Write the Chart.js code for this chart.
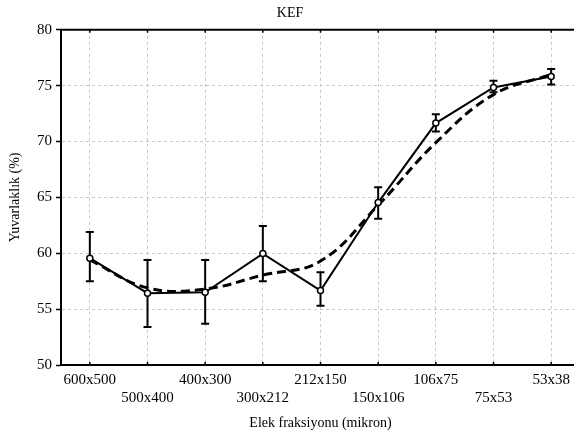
<!DOCTYPE html>
<html>
<head>
<meta charset="utf-8">
<script src="https://cdn.jsdelivr.net/npm/chart.js@4"></script>
<style>
    html, body { margin: 0; padding: 0; background: #fff; overflow: hidden; }
    #wrap { width: 600px; height: 437px; }
</style>
</head>
<body>
<div id="wrap"><canvas id="chart" width="600" height="437"></canvas></div>
<script>
const categories = ['600x500', '500x400', '400x300', '300x212', '212x150', '150x106', '106x75', '75x53', '53x38'];
const measured = [59.56, 56.43, 56.5, 59.97, 56.66, 64.54, 71.65, 74.84, 75.82];
const errLow = [57.5, 53.4, 53.7, 57.5, 55.3, 63.1, 70.9, 74.4, 75.1];
const errHigh = [61.9, 59.4, 59.4, 62.45, 58.3, 65.9, 72.45, 75.43, 76.5];
const fitted = [59.4, 56.9, 56.8, 58.05, 59.3, 64.3, 69.9, 74.2, 76.0];
const yTicks = [50, 55, 60, 65, 70, 75, 80];

const serif = 'Liberation Serif';

// alternating rows for the category labels
const xLabels = categories.map((c, i) => i % 2 === 0 ? [c, ''] : ['', c]);

const errorBars = {
    id: 'errorBars',
    beforeDatasetsDraw(chart) {
        const ctx = chart.ctx;
        const x = chart.scales.x;
        const y = chart.scales.y;
        ctx.save();
        ctx.strokeStyle = '#000';
        ctx.lineWidth = 2;
        errLow.forEach((lo, i) => {
            const px = x.getPixelForValue(i);
            const top = y.getPixelForValue(errHigh[i]);
            const bot = y.getPixelForValue(lo);
            ctx.beginPath();
            ctx.moveTo(px, top);
            ctx.lineTo(px, bot);
            ctx.moveTo(px - 4, top);
            ctx.lineTo(px + 4, top);
            ctx.moveTo(px - 4, bot);
            ctx.lineTo(px + 4, bot);
            ctx.stroke();
        });
        ctx.restore();
    }
};

const frame = {
    id: 'frame',
    afterDraw(chart) {
        const ctx = chart.ctx;
        const a = chart.chartArea;
        const x = chart.scales.x;
        ctx.save();
        ctx.strokeStyle = '#000';
        ctx.lineWidth = 2;
        ctx.beginPath();
        ctx.moveTo(a.left - 1, a.top);
        ctx.lineTo(a.right + 5, a.top);
        ctx.stroke();
        ctx.lineWidth = 1.5;
        categories.forEach((c, i) => {
            const px = x.getPixelForValue(i);
            ctx.beginPath();
            ctx.moveTo(px, a.top);
            ctx.lineTo(px, a.top + 3);
            ctx.moveTo(px, a.bottom);
            ctx.lineTo(px, a.bottom - 3);
            ctx.stroke();
        });
        ctx.restore();
    }
};

new Chart(document.getElementById('chart'), {
    type: 'line',
    data: {
        labels: xLabels,
        datasets: [{
            data: measured,
            borderColor: '#000',
            borderWidth: 2,
            tension: 0,
            pointRadius: 3,
            pointBackgroundColor: '#fff',
            pointBorderColor: '#000',
            pointBorderWidth: 1.5
        }, {
            data: fitted,
            borderColor: '#000',
            borderWidth: 3,
            borderDash: [9, 5],
            tension: 0.4,
            pointRadius: 0
        }]
    },
    options: {
        responsive: false,
        animation: false,
        layout: {padding: {top: 0, right: 20, bottom: 0, left: 0}},
        plugins: {
            legend: {display: false},
            tooltip: {enabled: false},
            title: {
                display: true,
                text: 'KEF',
                color: '#000',
                font: {family: serif, size: 14, weight: 'normal'},
                padding: {top: 5, bottom: 8}
            }
        },
        scales: {
            x: {
                offset: true,
                afterFit: (s) => { s.height = 72; },
                grid: {
                    color: '#c8c8c8',
                    offset: false,
                    drawTicks: false
                },
                border: {display: true, color: '#000', width: 2, dash: [3, 3]},
                ticks: {
                    color: '#000',
                    font: {family: serif, size: 15},
                    padding: 6,
                    maxRotation: 0,
                    autoSkip: false
                },
                title: {
                    display: true,
                    text: 'Elek fraksiyonu (mikron)',
                    color: '#000',
                    font: {family: serif, size: 14},
                    padding: 5.6
                }
            },
            y: {
                min: 50,
                max: 80,
                afterFit: (s) => { s.width = 61; },
                afterBuildTicks: (s) => { s.ticks = yTicks.map(v => ({value: v})); },
                grid: {
                    color: '#c8c8c8',
                    tickLength: 5,
                    tickColor: '#000',
                    tickWidth: 1.5,
                    tickBorderDash: []
                },
                border: {display: true, color: '#000', width: 2, dash: [3, 3]},
                ticks: {
                    color: '#000',
                    font: {family: serif, size: 15},
                    padding: 4
                },
                title: {
                    display: true,
                    text: 'Yuvarlaklık (%)',
                    color: '#000',
                    font: {family: serif, size: 14},
                    padding: 6.6
                }
            }
        }
    },
    plugins: [errorBars, frame]
});
</script>
</body>
</html>
